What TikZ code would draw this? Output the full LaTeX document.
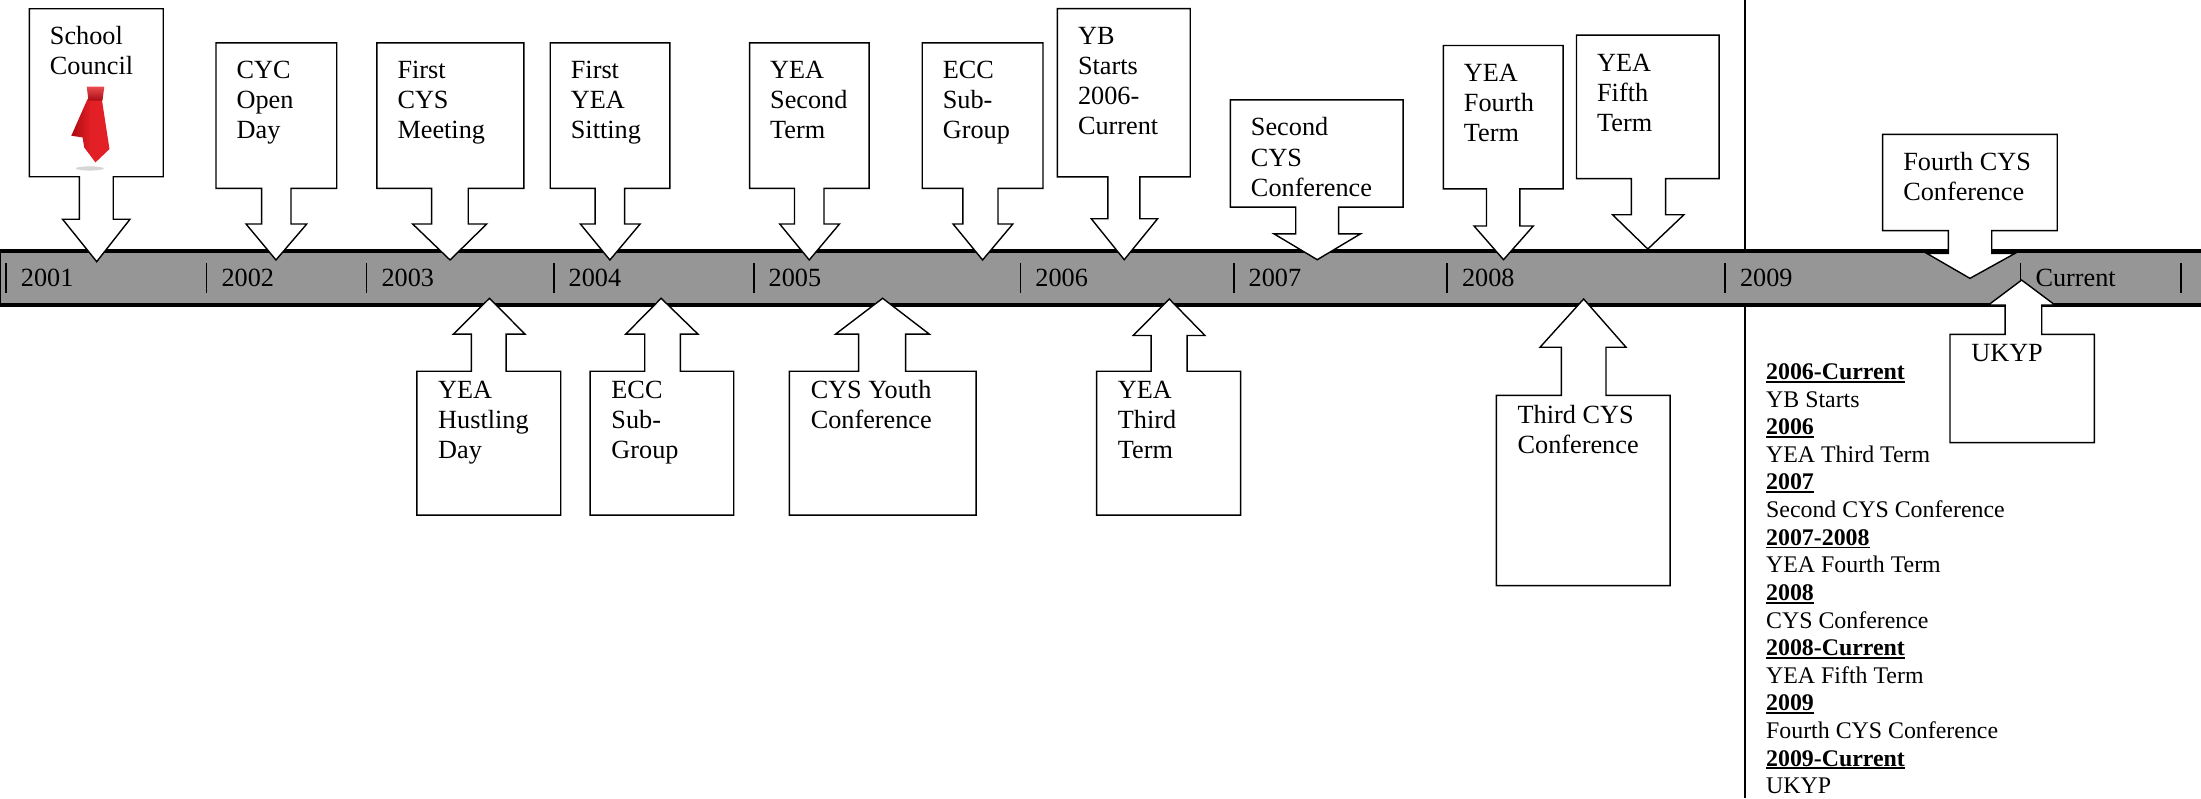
\documentclass[tikz,border=0pt]{standalone}
\usepackage{fontspec}
\setmainfont{Liberation Serif}
\definecolor{bandgray}{RGB}{150,150,150}
\definecolor{tiered}{RGB}{226,32,38}
\definecolor{tiedark}{RGB}{170,10,16}
\newcommand\mainf{\fontsize{18.7}{21.4}\selectfont}
\newcommand\listf{\fontsize{17}{19.67}\selectfont}
\newcommand\ulb[1]{\setbox0\hbox{\textbf{#1}}\rlap{\rule[-2.3pt]{\wd0}{1.3pt}}\box0}
\begin{document}
\begin{tikzpicture}[x=1pt,y=-1pt,
  callout/.style={draw, fill=white, line width=1pt, line join=miter},
  toptext/.style={anchor=north west, inner sep=0pt, align=left, font=\mainf},
  yearlbl/.style={anchor=base west, inner sep=0pt, font=\mainf},
  ticksty/.style={line width=1.1pt}]
\useasboundingbox (0,0) rectangle (1568,568.5);
% separator line
\draw[line width=1pt] (1243,0) -- (1243,568.5);
% band
\draw[fill=bandgray, line width=2.6pt] (-0.6,178.8) rectangle (1572,217.5);
% ticks and labels
\foreach \x/\t/\n in {4.3/2001/a,147.2/2002/b,261.2/2003/c,394.5/2004/d,537/2005/e,727/2006/f,879/2007/g,1031/2008/h,1229/2009/i,1439.5/Current/j}{
  \draw[ticksty] (\x,187.6) -- (\x,209);
  \node[yearlbl] (yr\n) at (\x+10.4,204.2) {\t};
}
\draw[ticksty] (1553.8,187.6) -- (1553.8,209);
% down callouts
\draw[callout] (20.9,6.2) -- (116.3,6.2) -- (116.3,125.9) -- (80.7,125.9) -- (80.7,156.2) -- (92.6,156.2) -- (68.9,186.4) -- (44.6,156.2) -- (56.5,156.2) -- (56.5,125.9) -- (20.9,125.9) -- cycle;
\draw[callout] (153.9,30.5) -- (239.9,30.5) -- (239.9,134.2) -- (207.3,134.2) -- (207.3,159.6) -- (218.5,159.6) -- (196.6,185.2) -- (175.3,159.6) -- (186.4,159.6) -- (186.4,134.2) -- (153.9,134.2) -- cycle;
\draw[callout] (268.5,30.5) -- (373.2,30.5) -- (373.2,134.2) -- (333.6,134.2) -- (333.6,159.6) -- (346.7,159.6) -- (320.6,185.2) -- (294,159.6) -- (307.5,159.6) -- (307.5,134.2) -- (268.5,134.2) -- cycle;
\draw[callout] (392,30.5) -- (477.2,30.5) -- (477.2,134.2) -- (445,134.2) -- (445,159.6) -- (456,159.6) -- (434.5,185.2) -- (413.5,159.6) -- (424,159.6) -- (424,134.2) -- (392,134.2) -- cycle;
\draw[callout] (534,30.5) -- (619.2,30.5) -- (619.2,134.2) -- (587,134.2) -- (587,159.6) -- (598,159.6) -- (576.5,185.2) -- (555.5,159.6) -- (566,159.6) -- (566,134.2) -- (534,134.2) -- cycle;
\draw[callout] (657,30.5) -- (743,30.5) -- (743,134.2) -- (711,134.2) -- (711,159.6) -- (721.5,159.6) -- (700,185.2) -- (679,159.6) -- (686,159.6) -- (686,134.2) -- (657,134.2) -- cycle;
\draw[callout] (753.3,6.1) -- (847.9,6.1) -- (847.9,126) -- (812,126) -- (812,155.8) -- (824.7,155.8) -- (800.9,185) -- (777.4,155.8) -- (789.2,155.8) -- (789.2,126) -- (753.3,126) -- cycle;
\draw[callout] (876.5,71.2) -- (999.6,71.2) -- (999.6,147.6) -- (953.6,147.6) -- (953.6,166.6) -- (969.2,166.6) -- (938.4,185) -- (907.6,166.6) -- (923.1,166.6) -- (923.1,147.6) -- (876.5,147.6) -- cycle;
\draw[callout] (1028.2,32.4) -- (1113.6,32.4) -- (1113.6,134.6) -- (1082.8,134.6) -- (1082.8,161) -- (1092.3,161) -- (1071.1,185) -- (1050.1,161) -- (1059,161) -- (1059,134.6) -- (1028.2,134.6) -- cycle;
\draw[callout] (1123.1,25) -- (1224.7,25) -- (1224.7,127.3) -- (1186.6,127.3) -- (1186.6,153) -- (1199.6,153) -- (1173.9,177.4) -- (1148.8,153) -- (1162.2,153) -- (1162.2,127.3) -- (1123.1,127.3) -- cycle;
\draw[callout] (1341.2,95.7) -- (1465.6,95.7) -- (1465.6,164.3) -- (1418.9,164.3) -- (1418.9,180.5) -- (1435.5,180.5) -- (1403.4,198.3) -- (1372.6,180.5) -- (1388,180.5) -- (1388,164.3) -- (1341.2,164.3) -- cycle;
% up callouts
\draw[callout] (297,367) -- (399.5,367) -- (399.5,264.5) -- (360.6,264.5) -- (360.6,238) -- (374,238) -- (348.7,212.5) -- (323,238) -- (335.8,238) -- (335.8,264.5) -- (297,264.5) -- cycle;
\draw[callout] (420.4,367) -- (522.7,367) -- (522.7,264.5) -- (484.7,264.5) -- (484.7,238) -- (497.2,238) -- (471,212.5) -- (445.8,238) -- (459.3,238) -- (459.3,264.5) -- (420.4,264.5) -- cycle;
\draw[callout] (562.4,367) -- (695.4,367) -- (695.4,264.5) -- (645.2,264.5) -- (645.2,238) -- (662,238) -- (628.8,212.5) -- (595.3,238) -- (611.7,238) -- (611.7,264.5) -- (562.4,264.5) -- cycle;
\draw[callout] (781.2,367) -- (883.8,367) -- (883.8,264.5) -- (845.7,264.5) -- (845.7,239) -- (858.4,239) -- (833,213) -- (807.3,239) -- (820,239) -- (820,264.5) -- (781.2,264.5) -- cycle;
\draw[callout] (1066,417.2) -- (1189.8,417.2) -- (1189.8,281.7) -- (1144.1,281.7) -- (1144.1,247.4) -- (1158.4,247.4) -- (1128.2,213) -- (1097.1,247.4) -- (1112.3,247.4) -- (1112.3,281.7) -- (1066,281.7) -- cycle;
\draw[callout] (1389.2,315.3) -- (1492,315.3) -- (1492,238.2) -- (1454.5,238.2) -- (1454.5,217.3) -- (1464,217.3) -- (1440.2,199.5) -- (1416.5,217.3) -- (1428.4,217.3) -- (1428.4,238.2) -- (1389.2,238.2) -- cycle;
% texts (top)
\node[toptext] (tA) at (35.4,16.7) {\strut School\\Council};
\node[toptext] (tB) at (168.4,41) {\strut CYC\\Open\\Day};
\node[toptext] (tC) at (283,41) {\strut First\\CYS\\Meeting};
\node[toptext] (tD) at (406.5,41) {\strut First\\YEA\\Sitting};
\node[toptext] (tE) at (548.5,41) {\strut YEA\\Second\\Term};
\node[toptext] (tF) at (671.5,41) {\strut ECC\\Sub-\\Group};
\node[toptext] (tG) at (767.8,16.6) {\strut YB\\Starts\\2006-\\Current};
\node[toptext] (tH) at (891,81.7) {\strut Second\\CYS\\Conference};
\node[toptext] (tI) at (1042.7,42.9) {\strut YEA\\Fourth\\Term};
\node[toptext] (tJ) at (1137.6,35.5) {\strut YEA\\Fifth\\Term};
\node[toptext] (tK) at (1355.7,106.2) {\strut Fourth CYS\\Conference};
% texts (bottom)
\node[toptext] (tL) at (312,269) {\strut YEA\\Hustling\\Day};
\node[toptext] (tM) at (435.4,269) {\strut ECC\\Sub-\\Group};
\node[toptext] (tN) at (577.4,269) {\strut CYS Youth\\Conference};
\node[toptext] (tO) at (796.2,269) {\strut YEA\\Third\\Term};
\node[toptext] (tP) at (1081,286.2) {\strut Third CYS\\Conference};
\node[toptext] (tQ) at (1404.2,242.7) {\strut UKYP};
% tie
\fill[gray!45, opacity=0.7] (64,120) ellipse (10 and 1.5);
\shade[left color=tiedark, right color=tiered, middle color=tiered] (62.5,70.5) -- (72.5,70.5) -- (78,106.2) -- (68,115.7) -- (60,105) -- (58.8,97.9) -- (50.8,96.7) -- (61.3,72.9) -- cycle;
\shade[top color=tiered!80!white, bottom color=tiedark] (61.8,61.7) -- (74.3,61.7) -- (73,71.7) -- (63,71.7) -- cycle;
% list
\node[anchor=north west, inner sep=0pt, align=left, font=\listf] (lst) at (1258,256.4) {\strut\ulb{2006-Current}\\YB Starts\\\ulb{2006}\\YEA Third Term\\\ulb{2007}\\Second CYS Conference\\\ulb{2007-2008}\\YEA Fourth Term\\\ulb{2008}\\CYS Conference\\\ulb{2008-Current}\\YEA Fifth Term\\\ulb{2009}\\Fourth CYS Conference\\\ulb{2009-Current}\\UKYP};
\end{tikzpicture}
\end{document}
